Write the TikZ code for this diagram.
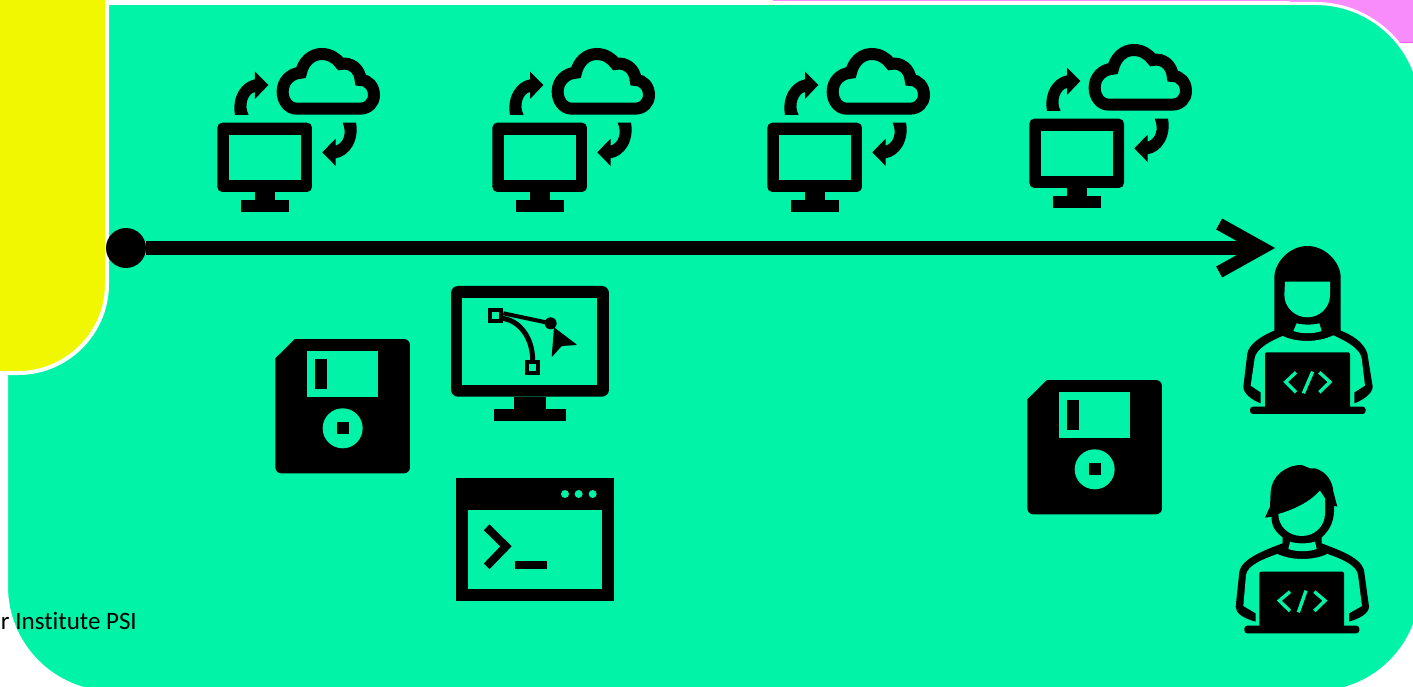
\documentclass[tikz,border=0pt]{standalone}
\usepackage{fontspec}
\setmainfont[Ligatures=NoCommon]{Carlito}
\usepackage{tikz}
\usetikzlibrary{arrows.meta}
\definecolor{mint}{HTML}{00F3A6}
\definecolor{lemon}{HTML}{F0F700}
\definecolor{orchid}{HTML}{F98CFB}
\definecolor{orchidline}{HTML}{F05CF5}
\tikzset{
    cut/.style={fill=mint},
    ink/.style={fill=black},
    codemark/.style={draw=mint, line width=3.4pt},
    panel/.style={draw=white, line width=3pt, fill=mint, rounded corners=106pt},
    timeline/.style={line width=14pt, -{Straight Barb[length=43pt, width=48pt, line width=12.5pt]}},
    pics/syncicon/.style={code={
        % Monitor
        \fill[ink, rounded corners=5pt] (52,278) rectangle (336,486);
        \fill[cut] (88,314) rectangle (302,450);
        \fill[ink] (165,486) rectangle (224,510);
        \fill[ink] (123,510) rectangle (266,545);
        % Cloud
        \draw[line width=12pt] (290,236) .. controls (265,236) and (248,212) .. (248,185) .. controls (248,155) and (270,130) .. (303,128) .. controls (310,95) and (335,72) .. (365,72) .. controls (390,72) and (410,85) .. (422,102) .. controls (452,95) and (480,118) .. (482,150) .. controls (505,150) and (522,170) .. (522,195) .. controls (522,218) and (505,236) .. (480,236) -- cycle;
        % Arrows
        \fill[ink] (105,255) .. controls (95,200) and (125,155) .. (165,148) -- (165,125) -- (205,165) -- (165,207) -- (165,186) .. controls (145,190) and (130,225) .. (146,255) -- cycle;
        \fill[ink] (468,278) .. controls (478,330) and (450,378) .. (407,385) -- (407,408) -- (367,367) -- (407,326) -- (407,347) .. controls (430,340) and (442,310) .. (428,278) -- cycle;
    }},
    pics/floppyicon/.style={code={
        \fill[ink, rounded corners=6pt] (105,42) [sharp corners] -- (105,42) [rounded corners=6pt] -- (450,42) -- (450,445) -- (46,445) [sharp corners] -- (46,100) -- cycle;
        \fill[cut] (141,78) rectangle (355,215);
        \fill[ink] (165,102) rectangle (201,191);
        \fill[cut] (248,310) circle[radius=60];
        \fill[ink] (230,292) rectangle (266,328);
    }},
    pics/designicon/.style={code={
        \fill[ink, rounded corners=7pt] (63,48) rectangle (537,380);
        \fill[cut] (97,83) rectangle (502,346);
        \fill[ink] (252,380) rectangle (347,417);
        \fill[ink] (192,417) rectangle (407,452);
        % Curve and handles
        \draw[line width=4pt] (220,130) -- (362,160);
        \draw[line width=5pt] (215,145) .. controls (270,150) and (308,205) .. (308,271);
        \draw[line width=4pt] (181,120) rectangle (214,152);
        \draw[line width=4pt] (291,277) rectangle (324,309);
        \fill[ink] (362,160) circle[radius=18];
        \fill[ink, rounded corners=1pt] (372,172) -- (442,225) -- (395,228) -- (365,262) -- cycle;
    }},
    pics/terminalicon/.style={code={
        \fill[ink] (48,40) rectangle (523,407);
        \fill[cut] (84,135) rectangle (487,372);
        \fill[cut] (375,87) circle[radius=12];
        \fill[cut] (416,87) circle[radius=12];
        \fill[cut] (458,87) circle[radius=12];
        \draw[line width=8pt] (140,187) -- (198,244) -- (140,304);
        \fill[ink] (226,289) rectangle (322,313);
    }},
    pics/womancoder/.style={code={
        % Hair and arms
        \fill[ink] (163,302) -- (163,140) .. controls (165,95) and (210,48) .. (262,48) .. controls (315,48) and (360,95) .. (362,140) -- (362,302) .. controls (395,315) and (430,335) .. (442,370) -- (458,470) .. controls (458,490) and (430,510) .. (403,520) -- (122,520) .. controls (95,510) and (70,490) .. (70,470) -- (82,370) .. controls (88,340) and (130,315) .. (163,302) -- cycle;
        \fill[cut] (188,318) .. controls (230,338) and (295,338) .. (340,316) .. controls (375,332) and (420,355) .. (425,385) -- (435,467) -- (403,487) -- (403,535) -- (122,535) -- (122,487) -- (92,467) -- (104,385) .. controls (108,355) and (155,332) .. (188,318) -- cycle;
        % Face and collar
        \fill[cut] (195,155) -- (330,155) -- (330,195) .. controls (330,232) and (300,262) .. (262,262) .. controls (225,262) and (193,232) .. (193,195) -- cycle;
        \fill[cut] (230,280) .. controls (250,285) and (278,285) .. (298,280) -- (305,303) .. controls (280,312) and (245,312) .. (220,303) -- cycle;
        % Laptop
        \fill[ink, rounded corners=2pt] (135,367) rectangle (390,535);
        \fill[ink, rounded corners=3pt] (90,530) -- (437,530) -- (437,552) -- (90,552) -- cycle;
        \draw[codemark] (228,427) -- (197,456) -- (228,487);
        \draw[codemark] (278,425) -- (250,490);
        \draw[codemark] (298,427) -- (330,456) -- (298,487);
    }},
    pics/mancoder/.style={code={
        % Hair and arms
        \fill[ink] (135,203) -- (150,170) -- (152,125) .. controls (155,80) and (195,45) .. (245,45) -- (270,55) -- (285,55) .. controls (320,65) and (338,95) .. (340,125) -- (352,170) -- (342,167) .. controls (345,210) and (330,240) .. (305,262) -- (305,280) .. controls (350,298) and (420,320) .. (432,360) -- (447,470) .. controls (447,490) and (420,505) .. (387,515) -- (107,515) .. controls (70,505) and (47,490) .. (47,470) -- (58,365) .. controls (65,325) and (140,298) .. (188,280) -- (188,262) .. controls (165,245) and (153,225) .. (155,200) -- cycle;
        \fill[cut] (172,312) .. controls (215,332) and (280,332) .. (322,312) .. controls (360,325) and (410,345) .. (414,375) -- (426,468) -- (387,490) -- (387,530) -- (107,530) -- (107,490) -- (70,468) -- (78,375) .. controls (82,345) and (135,325) .. (172,312) -- cycle;
        % Face and collar
        \fill[cut] (175,192) .. controls (225,178) and (270,155) .. (300,122) -- (315,145) -- (315,190) .. controls (315,228) and (285,258) .. (245,258) .. controls (205,258) and (175,228) .. (175,192) -- cycle;
        \fill[cut] (210,275) .. controls (232,282) and (262,282) .. (285,275) -- (290,297) .. controls (262,306) and (232,306) .. (205,297) -- cycle;
        % Laptop
        \fill[ink, rounded corners=2pt] (118,365) rectangle (372,532);
        \fill[ink, rounded corners=3pt] (73,527) -- (418,527) -- (418,550) -- (73,550) -- cycle;
        \draw[codemark] (210,425) -- (178,452) -- (210,483);
        \draw[codemark] (258,422) -- (235,487);
        \draw[codemark] (283,425) -- (315,452) -- (283,483);
    }},
}

\begin{document}
\begin{tikzpicture}[x=1pt, y=-1pt]
    \useasboundingbox (0,0) rectangle (1413,687);

    % Panels
    \fill[orchid] (773,-5) rectangle (1420,1.4);
    \fill[orchid] (1290,-5) rectangle (1420,42);
    \draw[orchidline, line width=0.8pt] (1290,42) -- (1420,42);
    \path[panel] (6.5,3.5) rectangle (1421.5,692.5);
    \fill[lemon, draw=white, line width=4pt, rounded corners=89pt] (-200,-200) rectangle (107,373);

    % Label
    \node[anchor=base east, inner sep=0pt, font=\fontsize{25}{30}\selectfont] (institute) at (137,629) {r Institute PSI};

    % Time line
    \node[circle, fill=black, inner sep=0pt, minimum size=40pt] (start) at (126,248) {};
    \coordinate (end) at (1275,248);
    \draw[timeline] (start) -- (end);

    % Icons
    \pic[scale=0.3333] at (200,30) {syncicon};
    \pic[scale=0.3333] at (475,30) {syncicon};
    \pic[scale=0.3333] at (750,30) {syncicon};
    \pic[scale=0.3333] at (1012,26) {syncicon};
    \pic[scale=0.3333] at (260,325) {floppyicon};
    \pic[scale=0.3333] at (1012,366) {floppyicon};
    \pic[scale=0.3333] at (430,270) {designicon};
    \pic[scale=0.3333] at (440,465) {terminalicon};
    \pic[scale=0.3333] at (1220,230) {womancoder};
    \pic[scale=0.3333] at (1220,450) {mancoder};
\end{tikzpicture}
\end{document}
